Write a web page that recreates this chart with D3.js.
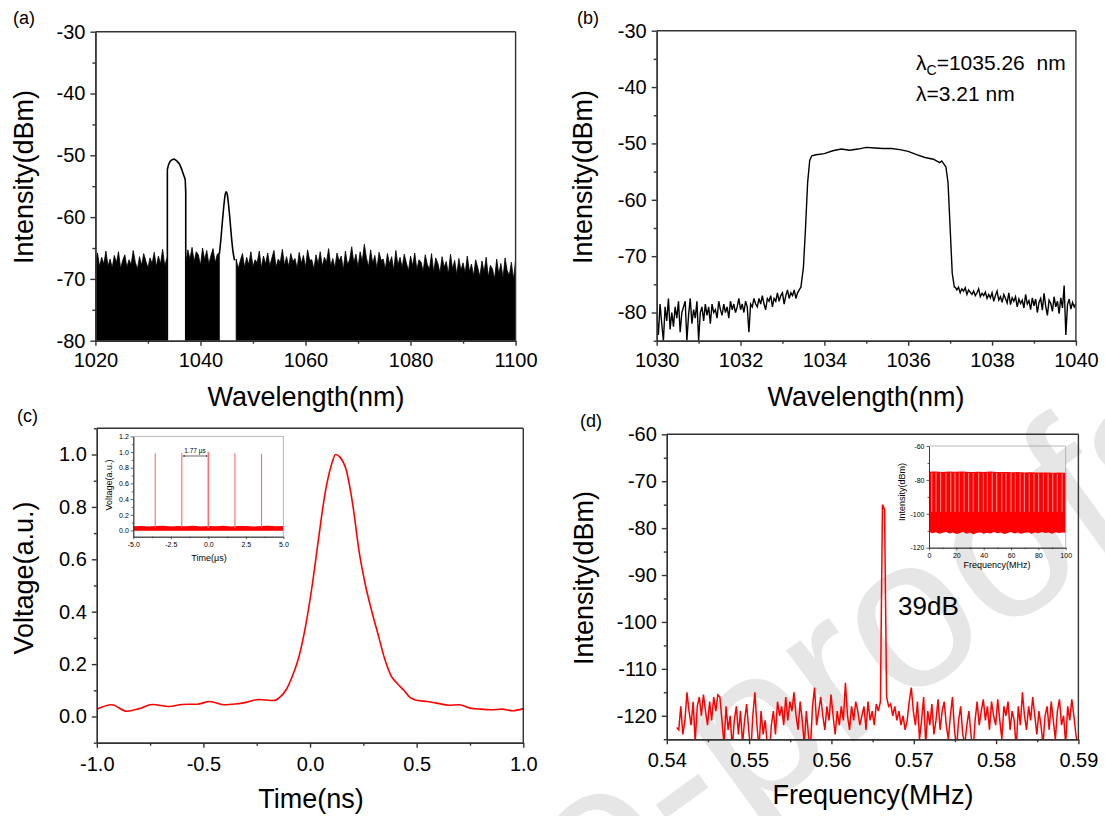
<!DOCTYPE html>
<html>
<head>
<meta charset="utf-8">
<script src="https://cdn.jsdelivr.net/npm/d3@7"></script>
<style>
body { margin: 0; background: #fff; }
text { font-family: Arial, "Liberation Sans", sans-serif; }
</style>
</head>
<body>
<div id="chart"></div>
<script>
// ---------- data ----------

// (a) wide spectrum: noise floor segments (top of the noise band, 0.4 nm apart) and two peaks
const aStep = 0.4
const aSeg1Start = 1020
const aSeg1 = [-67.2,-65.8,-68.0,-66.5,-67.6,-65.5,-67.9,-66.8,-68.2,-66.2,-67.4,-65.6,-68.3,-67.0,-66.1,-68.1,-66.9,-67.7,-65.4,-67.3,-68.4,-66.4,-67.8,-65.9,-67.1,-68.2,-66.6,-67.5,-65.7,-68.0,-66.3,-67.6,-65.2,-67.9,-66.7]
const aSeg2Start = 1037.2
const aSeg2 = [-67.5,-65.3,-66.8,-64.9,-67.2,-65.6,-66.1,-67.8,-65.0,-66.9,-65.4,-67.6,-66.2,-65.1,-67.4,-66.0,-65.8]
const aSeg3Start = 1046.8
const aSeg3 = [-66.8,-68.3,-67.0,-65.9,-68.1,-66.5,-67.7,-65.6,-68.0,-66.9,
  -67.4,-65.5,-68.2,-66.3,-67.6,-65.8,-67.9,-66.6,-65.4,-68.1,
  -66.8,-67.3,-65.2,-67.8,-66.4,-68.0,-65.9,-67.2,-66.7,-68.3,
  -65.7,-67.5,-66.2,-68.1,-65.3,-67.0,-66.9,-68.4,-66.1,-67.6,
  -65.6,-68.0,-66.5,-67.3,-65.1,-67.9,-66.7,-68.2,-65.8,-67.1,
  -66.3,-68.5,-65.5,-67.7,-66.9,-64.8,-67.4,-66.0,-68.1,-65.6,
  -67.2,-64.4,-66.6,-68.0,-65.3,-67.5,-66.2,-68.3,-65.7,-67.0,
  -66.8,-68.4,-65.9,-67.6,-66.4,-68.6,-65.4,-67.8,-66.5,-68.2,
  -66.0,-67.4,-68.7,-66.3,-67.9,-65.8,-68.5,-66.9,-67.3,-68.8,
  -66.1,-67.7,-68.4,-65.9,-68.9,-66.6,-67.5,-69.0,-66.4,-68.1,
  -67.2,-69.2,-66.0,-68.4,-67.0,-69.3,-66.7,-68.6,-67.4,-69.1,
  -66.3,-68.8,-67.6,-69.5,-66.9,-68.2,-69.6,-67.1,-68.9,-66.5,
  -69.7,-67.8,-68.4,-70.0,-66.8,-69.2,-67.5,-69.8,-66.6,-68.7,
  -69.4,-67.3,-70.1,-66.9]
const aPeak1Wl = [1033.7,1033.7,1033.9,1034.2,1034.6,1035.0,1035.5,1036.0,1036.4,1036.8,1037.1,1037.2,1037.2]
const aPeak1Db = [-80,-52.3,-51.6,-51.0,-50.7,-50.6,-50.9,-51.4,-52.2,-53.2,-53.9,-56,-80]
const aPeak2Wl = [1043.6,1043.9,1044.2,1044.5,1044.7,1044.9,1045.1,1045.3,1045.6,1045.9,1046.2,1046.5]
const aPeak2Db = [-66.0,-63.5,-60.5,-57.8,-56.4,-55.9,-56.3,-57.6,-60.2,-63.2,-65.6,-67.0]

// (b) filtered spectrum
const bStep = 0.04
const bLeftStart = 1030
const bLeft = [-80,-84,-78.5,-82,-85,-79,-81.5,-77.5,-83,-80,
  -82.5,-79,-81,-78,-83.5,-80,-79,-78,-85,-80.5,
  -77.5,-82,-79.5,-81,-78,-85,-80,-79,-81.5,-78.5,
  -80.5,-79,-82,-78.5,-80,-79.5,-81,-78,-79.5,-80.5,
  -78.5,-80,-79,-81,-78,-79.5,-78.5,-80,-79,-77.5,
  -79.5,-78.5,-80,-78,-79,-83.5,-78.5,-79,-77.5,-78.5,
  -79,-77.5,-78.5,-77,-78.5,-79.5,-77.5,-78,-77,-79,
  -77.5,-78,-76.5,-78,-77,-76.5,-78.5,-77,-76,-77.5,
  -76.5,-77,-76,-77.5,-76.5,-76]
const bTopWl = [1033.44,1033.5,1033.55,1033.6,1033.65,1033.7,1033.8,1034.0,1034.2,1034.4,1034.6,1034.8,1035.0,1035.2,1035.4,1035.6,1035.8,1036.0,1036.2,1036.4,1036.6,1036.75,1036.8,1036.9,1036.95,1037.0,1037.05,1037.1]
const bTopDb = [-75.5,-72,-65,-57,-53,-52.2,-52.0,-51.8,-51.3,-51.0,-51.2,-51.0,-50.7,-50.8,-50.9,-50.9,-51.1,-51.4,-52.0,-52.5,-52.8,-53.4,-53.1,-54.2,-57,-65,-73,-75.5]
const bRightStart = 1037.12
const bRight = [-75.5,-76,-75.5,-76.5,-75.8,-76.2,-75.6,-76.8,-76,-76.4,
  -76.8,-76.2,-77,-76.5,-75.8,-77.2,-76.6,-77,-76.4,-77.5,
  -76.8,-77.4,-76.5,-78,-77,-76.2,-77.8,-77.2,-78.2,-76.8,
  -77.5,-78.3,-76.5,-78.6,-77.4,-78,-77.2,-79,-77.6,-78.4,
  -77.8,-79.2,-76.8,-78.5,-77.9,-79.5,-77.4,-78.8,-77.6,-80,
  -78.2,-77.5,-79.6,-76.6,-78.9,-80.5,-77.8,-78.4,-79.8,-77.2,
  -79,-78,-80.2,-77.4,-79.2,-75.2,-84,-78.6,-77.6,-79.4,
  -78.2,-79,-78.4]

// (c) single pulse
const cT = [-1.0,-0.93,-0.86,-0.8,-0.74,-0.66,-0.6,-0.53,-0.47,-0.4,-0.35,-0.3,-0.24,-0.17,-0.14,-0.11,-0.08,-0.05,-0.02,0.01,0.04,0.07,0.1,0.12,0.14,0.17,0.2,0.23,0.26,0.29,0.32,0.35,0.38,0.41,0.44,0.47,0.5,0.55,0.6,0.65,0.7,0.75,0.8,0.85,0.9,0.95,1.0]
const cV = [0.028,0.045,0.02,0.03,0.046,0.038,0.046,0.047,0.057,0.045,0.048,0.054,0.065,0.061,0.075,0.105,0.16,0.235,0.35,0.5,0.68,0.85,0.96,1.0,0.99,0.94,0.81,0.63,0.5,0.4,0.31,0.22,0.155,0.125,0.1,0.072,0.062,0.057,0.05,0.043,0.045,0.032,0.028,0.026,0.028,0.022,0.03]
// (c) inset: pulse train
const cInPulseT = [-3.54,-1.77,0,1.77,3.54]
const cInPulseV = [0.985,0.99,1.0,0.985,0.98]
const cInBaseStep = 0.5
const cInBaseTop = [0.052,0.058,0.05,0.055,0.06,0.049,0.056,0.053,0.059,0.05,0.057,0.054,0.06,0.051,0.056,0.058,0.05,0.055,0.059,0.052,0.056]

// (d) RF spectrum
const dStart = 0.5412
const dStep = 0.00025
const dDb = [-122.5,-123,-118,-124,-121,-115,-119,-122,-117,-125.5,
  -118,-116,-120,-115.5,-119,-122,-117,-121,-116,-119,
  -115.5,-116,-121,-126,-118,-123,-120,-127,-121,-118,
  -124,-119,-126,-121,-117.5,-123,-128,-120,-115,-122,
  -127,-119,-124,-121,-126,-129,-122,-119,-124,-117,
  -120,-118,-122,-116,-121,-117,-119,-115,-120,-123,
  -117,-121,-126,-119,-124,-127,-118,-114,-122,-119,
  -116,-120,-123,-118,-121,-115.5,-120,-124,-119,-122,
  -118,-121,-113,-120,-123,-118,-121,-117,-119,-122,
  -120,-118,-123,-117,-121,-119,-122,-117.5,-119,-117,
  -75,-76,-116,-118,-117.5,-120,-118,-121,-119,-122,
  -120,-123,-121,-117,-114,-119,-122,-117,-125,-121,
  -116,-126,-119,-122,-117.5,-124,-121,-116.5,-123,-119,
  -117,-122,-125,-120,-116,-123,-127,-121,-118,-124,
  -126,-122,-119,-124,-128,-121,-117,-122,-119,-116.5,
  -121,-118,-123,-117,-120,-122,-116.5,-121,-125,-118,
  -120,-117,-123,-119,-121,-127,-118,-122,-115,-120,
  -123,-118,-121,-116,-120,-124,-119,-122,-126,-120,
  -118,-123,-117,-121,-125,-119,-116.5,-122,-120,-126,
  -118,-121,-116.5,-120,-124,-127]
// (d) inset: harmonics over 100 MHz
const dInTopStep = 5
const dInTop = [-75.2,-75.0,-75.3,-75.1,-75.2,-75.0,-75.4,-75.2,-75.3,-75.1,-75.4,-75.3,-75.5,-75.4,-75.6,-75.5,-75.7,-75.6,-75.8,-75.7,-75.8]
const dInBotStep = 2.5
const dInBot = [-110.8,-111.5,-110.9,-111.8,-111.2,-110.7,-111.6,-111.0,-111.9,-111.3,-110.8,-111.7,-111.1,-112.0,-111.4,-110.9,-111.8,-111.2,-111.6,-110.8,-111.5,-111.0,-111.9,-111.3,-110.7,-111.6,-111.1,-111.8,-111.2,-110.9,-111.7,-111.0,-111.5,-110.8,-111.4,-111.1,-111.7,-110.9,-111.3,-111.0,-111.2]
const dInGaps = [2.0,5.1,8.5,12.4,15.9,19.0,22.2,25.6,29.0,32.4,36.3,39.8,42.7,46.3,49.5,53.2,56.3,60.0,63.2,66.6,69.8,73.4,76.8,80.2,83.7,87.1,90.5,93.9,97.3]

// ticks
const aXMajor = [1020,1040,1060,1080,1100], aXMinor = [1030,1050,1070,1090]
const aYMajor = [-80,-70,-60,-50,-40,-30], aYMinor = [-75,-65,-55,-45,-35]
const bXMajor = [1030,1032,1034,1036,1038,1040], bXMinor = [1031,1033,1035,1037,1039]
const bYMajor = [-80,-70,-60,-50,-40,-30], bYMinor = [-85,-75,-65,-55,-45,-35]
const cXMajor = [-1.0,-0.5,0.0,0.5,1.0], cXMinor = [-0.75,-0.25,0.25,0.75]
const cYMajor = [0.0,0.2,0.4,0.6,0.8,1.0], cYMinor = [-0.1,0.1,0.3,0.5,0.7,0.9,1.1]
const dXMajor = [0.54,0.55,0.56,0.57,0.58,0.59], dXMinor = [0.545,0.555,0.565,0.575,0.585]
const dYMajor = [-120,-110,-100,-90,-80,-70,-60], dYMinor = [-125,-115,-105,-95,-85,-75,-65]
const cInXMajor = [-5,-2.5,0,2.5,5], cInYMajor = [0,0.2,0.4,0.6,0.8,1.0,1.2]
const dInXMajor = [0,20,40,60,80,100], dInYMajor = [-120,-100,-80,-60]

// ---------- drawing ----------
const W = 1105, H = 816
const svg = d3.select("#chart").append("svg").attr("width", W).attr("height", H)

// watermark (behind everything)
svg.append("text")
   .attr("transform", "translate(1228,470) rotate(-36)")
   .attr("text-anchor", "end")
   .style("font-size", "215px")
   .style("fill", "#e6e6e6")
   .text("Journal Pre-proofs")

const AX = "#333"

function axes(x, y, o) {
  let g = svg.append("g")
  let y0 = y.range()[0], y1 = y.range()[1]
  let x0 = x.range()[0], x1 = x.range()[1]
  let fs = o.fs || 20
  let maj = o.maj || 5, mnr = o.mnr || 3
  // bottom
  g.append("g").attr("transform", `translate(0,${y0})`)
   .call(d3.axisBottom(x).tickValues(o.xMinor || []).tickSize(mnr).tickSizeOuter(0).tickFormat(""))
  g.append("g").attr("transform", `translate(0,${y0})`)
   .call(d3.axisBottom(x).tickValues(o.xMajor).tickSize(maj).tickSizeOuter(0).tickPadding(o.xPad).tickFormat(o.xFmt))
  // left
  g.append("g").attr("transform", `translate(${x0},0)`)
   .call(d3.axisLeft(y).tickValues(o.yMinor || []).tickSize(mnr).tickSizeOuter(0).tickFormat(""))
  g.append("g").attr("transform", `translate(${x0},0)`)
   .call(d3.axisLeft(y).tickValues(o.yMajor).tickSize(maj).tickSizeOuter(0).tickPadding(o.yPad).tickFormat(o.yFmt))
  // top and right
  g.append("line").attr("x1", x0).attr("x2", x1).attr("y1", y1).attr("y2", y1)
  g.append("line").attr("x1", x1).attr("x2", x1).attr("y1", y0).attr("y2", y1)
  g.selectAll("path, line").attr("stroke", o.color || AX).attr("stroke-width", o.sw || 1.4)
  g.selectAll("line").filter(function () { return this.parentNode === g.node() })
   .attr("stroke", o.boxColor || o.color || AX).attr("stroke-width", o.boxSw || o.sw || 1.4)
  g.selectAll("text").style("font-size", fs + "px").attr("fill", "#000")
   .style("font-family", "Arial, 'Liberation Sans', sans-serif")
  return g
}

function clip(id, x, y) {
  svg.append("clipPath").attr("id", id).append("rect")
     .attr("x", x.range()[0]).attr("y", y.range()[1])
     .attr("width", x.range()[1] - x.range()[0]).attr("height", y.range()[0] - y.range()[1])
  return "url(#" + id + ")"
}

function title(txt, x, y, size, rot) {
  let t = svg.append("text").attr("text-anchor", "middle").style("font-size", size + "px").text(txt)
  if (rot) t.attr("transform", `translate(${x},${y}) rotate(-90)`)
  else t.attr("x", x).attr("y", y)
  return t
}

const f0 = d => String(d)
const f1 = d => d.toFixed(1)
const f2 = d => d.toFixed(2)

// ===== (a) =====
const xa = d3.scaleLinear().domain([1020, 1100]).range([95.4, 515.6])
const ya = d3.scaleLinear().domain([-80, -30]).range([340.7, 31.7])
const clipA = clip("clipA", xa, ya)
const aArea = d3.area().x(d => xa(d.w)).y0(ya(-80)).y1(d => ya(d.v))
;[[aSeg1Start, aSeg1], [aSeg2Start, aSeg2], [aSeg3Start, aSeg3]].forEach(([s, vals]) => {
  let pts = vals.map((v, i) => ({ w: s + i * aStep, v: v }))
  svg.append("path").datum(pts).attr("d", aArea).attr("fill", "#000")
     .attr("stroke", "#000").attr("stroke-width", 0.8).attr("clip-path", clipA)
})
const aLine = d3.line().x(d => xa(d[0])).y(d => ya(d[1]))
svg.append("path").datum(d3.zip(aPeak1Wl, aPeak1Db)).attr("d", aLine)
   .attr("fill", "none").attr("stroke", "#000").attr("stroke-width", 1.6).attr("clip-path", clipA)
svg.append("path").datum(d3.zip(aPeak2Wl, aPeak2Db)).attr("d", aLine.curve(d3.curveMonotoneX))
   .attr("fill", "none").attr("stroke", "#000").attr("stroke-width", 1.6).attr("clip-path", clipA)
axes(xa, ya, { xMajor: aXMajor, xMinor: aXMinor, yMajor: aYMajor, yMinor: aYMinor, xFmt: f0, yFmt: f0, xPad: 7, yPad: 5 })
title("Wavelength(nm)", 306, 406, 27)
title("Intensity(dBm)", 33, 177, 27, true)
svg.append("text").attr("x", 13).attr("y", 24).style("font-size", "18px").text("(a)")

// ===== (b) =====
const xb = d3.scaleLinear().domain([1030, 1040]).range([656.7, 1075.9])
const yb = d3.scaleLinear().domain([-85, -30]).range([340.7, 30.7])
const clipB = clip("clipB", xb, yb)
const bPts = bLeft.map((v, i) => [bLeftStart + i * bStep, v])
  .concat(d3.zip(bTopWl, bTopDb))
  .concat(bRight.map((v, i) => [bRightStart + i * bStep, v]))
svg.append("path").datum(bPts)
   .attr("d", d3.line().x(d => xb(d[0])).y(d => yb(d[1])))
   .attr("fill", "none").attr("stroke", "#000").attr("stroke-width", 1.4).attr("clip-path", clipB)
axes(xb, yb, { xMajor: bXMajor, xMinor: bXMinor, yMajor: bYMajor, yMinor: bYMinor, xFmt: f0, yFmt: f0, xPad: 7, yPad: 5 })
title("Wavelength(nm)", 866, 406, 27)
title("Intensity(dBm)", 592, 177, 27, true)
svg.append("text").attr("x", 577).attr("y", 24).style("font-size", "18px").text("(b)")
let ann = svg.append("text").attr("x", 916).attr("y", 70).style("font-size", "21px").style("white-space", "pre")
ann.append("tspan").text("λ")
ann.append("tspan").attr("dy", 5).style("font-size", "14px").text("C")
ann.append("tspan").attr("dy", -5).text("=1035.26  nm")
svg.append("text").attr("x", 916).attr("y", 101).style("font-size", "21px").text("λ=3.21 nm")

// ===== (c) =====
const xc = d3.scaleLinear().domain([-1, 1]).range([96.8, 523.3])
const yc = d3.scaleLinear().domain([-0.1, 1.1]).range([742.7, 428.3])
const clipC = clip("clipC", xc, yc)
svg.append("path").datum(d3.zip(cT, cV))
   .attr("d", d3.line().x(d => xc(d[0])).y(d => yc(d[1])).curve(d3.curveMonotoneX))
   .attr("fill", "none").attr("stroke", "#f00").attr("stroke-width", 1.6).attr("clip-path", clipC)
axes(xc, yc, { xMajor: cXMajor, xMinor: cXMinor, yMajor: cYMajor, yMinor: cYMinor, xFmt: f1, yFmt: f1, xPad: 9.5, yPad: 5 })
title("Time(ns)", 311, 808, 27)
title("Voltage(a.u.)", 33, 578, 27, true)
svg.append("text").attr("x", 17).attr("y", 422).style("font-size", "18px").text("(c)")

// (c) inset
const xci = d3.scaleLinear().domain([-5, 5]).range([133.3, 283.4])
const yci = d3.scaleLinear().domain([-0.08, 1.2]).range([536.7, 436.4])
const clipCi = clip("clipCi", xci, yci)
svg.append("path").datum(cInBaseTop.map((v, i) => [-5 + i * cInBaseStep, v]))
   .attr("d", d3.area().x(d => xci(d[0])).y0(yci(-0.005)).y1(d => yci(d[1])))
   .attr("fill", "#f00").attr("clip-path", clipCi)
svg.selectAll(".cpulse").data(d3.zip(cInPulseT, cInPulseV)).enter().append("line")
   .attr("x1", d => xci(d[0])).attr("x2", d => xci(d[0]))
   .attr("y1", yci(0.03)).attr("y2", d => yci(d[1]))
   .attr("stroke", "#ff6a6a").attr("stroke-width", (d, i) => i === 2 ? 1.6 : 1.1)
axes(xci, yci, { xMajor: cInXMajor, yMajor: cInYMajor, yMinor: [0.1,0.3,0.5,0.7,0.9,1.1], xMinor: [-3.75,-1.25,1.25,3.75],
  xFmt: f1, yFmt: f1, xPad: 2.5, yPad: 2, fs: 7, maj: 2.5, mnr: 1.5, sw: 0.8, boxColor: "#999", boxSw: 0.7 })
svg.append("defs").append("marker").attr("id", "arr").attr("viewBox", "0 0 6 6")
   .attr("refX", 6).attr("refY", 3).attr("markerWidth", 3).attr("markerHeight", 3).attr("orient", "auto-start-reverse")
   .append("path").attr("d", "M0,0L6,3L0,6Z").attr("fill", "#000")
svg.append("line").attr("x1", xci(-1.77) + 1).attr("x2", xci(0) - 1).attr("y1", yci(0.95)).attr("y2", yci(0.95))
   .attr("stroke", "#000").attr("stroke-width", 0.6)
   .attr("marker-start", "url(#arr)").attr("marker-end", "url(#arr)")
svg.append("text").attr("x", xci(-0.885)).attr("y", yci(0.99)).attr("text-anchor", "middle")
   .style("font-size", "6.5px").text("1.77 μs")
title("Time(μs)", 209, 561, 9)
title("Voltage(a.u.)", 112, 485, 9, true)

// ===== (d) =====
const xd = d3.scaleLinear().domain([0.54, 0.59]).range([666.8, 1078.4])
const yd = d3.scaleLinear().domain([-125, -60]).range([739.2, 434.3])
const clipD = clip("clipD", xd, yd)
svg.append("path").datum(dDb.map((v, i) => [dStart + i * dStep, v]))
   .attr("d", d3.line().x(d => xd(d[0])).y(d => yd(d[1])))
   .attr("fill", "none").attr("stroke", "#f00").attr("stroke-width", 1.5).attr("clip-path", clipD)
axes(xd, yd, { xMajor: dXMajor, xMinor: dXMinor, yMajor: dYMajor, yMinor: dYMinor, xFmt: f2, yFmt: f0, xPad: 9, yPad: 5 })
title("Frequency(MHz)", 873, 804, 27)
title("Intensity(dBm)", 593, 578, 27, true)
svg.append("text").attr("x", 580).attr("y", 427).style("font-size", "18px").text("(d)")
svg.append("text").attr("x", 898).attr("y", 615).style("font-size", "26px").text("39dB")

// (d) inset
const xdi = d3.scaleLinear().domain([0, 100]).range([929, 1065.7])
const ydi = d3.scaleLinear().domain([-120, -60]).range([547.7, 446])
const clipDi = clip("clipDi", xdi, ydi)
const topAt = f => {
  let i = Math.min(Math.floor(f / dInTopStep), dInTop.length - 2)
  let t = (f - i * dInTopStep) / dInTopStep
  return dInTop[i] * (1 - t) + dInTop[i + 1] * t
}
svg.append("path").datum(dInBot.map((v, i) => [i * dInBotStep, v]))
   .attr("d", d3.area().x(d => xdi(d[0])).y0(d => ydi(d[1])).y1(d => ydi(topAt(d[0]))))
   .attr("fill", "#f00").attr("clip-path", clipDi)
svg.selectAll(".dgap").data(dInGaps).enter().append("line")
   .attr("x1", d => xdi(d)).attr("x2", d => xdi(d))
   .attr("y1", d => ydi(topAt(d)) + 1).attr("y2", ydi(-99))
   .attr("stroke", "#fff").attr("stroke-opacity", 0.55).attr("stroke-width", 1.1)
axes(xdi, ydi, { xMajor: dInXMajor, xMinor: [10,30,50,70,90], yMajor: dInYMajor, yMinor: [-110,-90,-70],
  xFmt: f0, yFmt: f0, xPad: 2.5, yPad: 2, fs: 7, maj: 2.5, mnr: 1.5, sw: 0.8, boxColor: "#999", boxSw: 0.7 })
title("Frequency(MHz)", 997, 568, 9)
title("Intensity(dBm)", 905, 492, 9, true)
</script>
</body>
</html>
